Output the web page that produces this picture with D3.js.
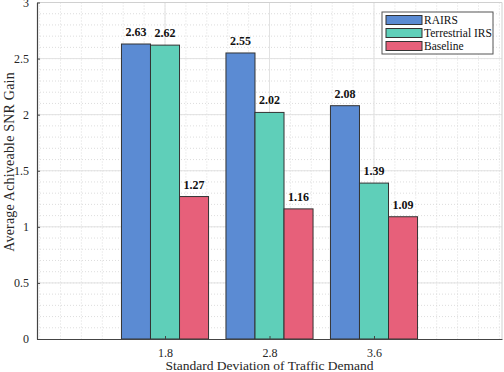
<!DOCTYPE html>
<html>
<head>
<meta charset="utf-8">
<script src="https://cdn.jsdelivr.net/npm/d3@7"></script>
<style>
  body { margin: 0; background: #fff; }
  svg text { font-family: "Liberation Serif", "DejaVu Serif", serif !important; }
</style>
</head>
<body>
<div id="chart"></div>
<script>
const width = 504, height = 372;

const categories = ["1.8", "2.8", "3.6"];
const seriesNames = ["RAIRS", "Terrestrial IRS", "Baseline"];
const rairs = [2.63, 2.55, 2.08];
const terrestrial = [2.62, 2.02, 1.39];
const baseline = [1.27, 1.16, 1.09];
const yTicks = [0, 0.5, 1, 1.5, 2, 2.5, 3];
const colors = ["#5b8bd3", "#5fcfb9", "#e7607a"];

const series = [rairs, terrestrial, baseline];

const svg = d3.select("#chart").append("svg")
  .attr("width", width)
  .attr("height", height);

// group positions 1..3 on a numeric axis, like the original
const x = d3.scaleLinear().domain([-0.225, 4.225]).range([37, 502]);
const y = d3.scaleLinear().domain([0, 3]).range([339, 2.5]);

const barW = 0.2778;

// MINOR GRID
const grid = svg.append("g");
d3.range(-0.2, 4.21, 0.2).forEach(v => {
  grid.append("line")
    .attr("x1", x(v)).attr("x2", x(v))
    .attr("y1", y(3)).attr("y2", y(0))
    .attr("stroke", "#d4d4d4").attr("stroke-width", 0.8)
    .attr("stroke-dasharray", "1,2");
});
d3.range(0.1, 3, 0.1).forEach(v => {
  grid.append("line")
    .attr("x1", x.range()[0]).attr("x2", x.range()[1])
    .attr("y1", y(v)).attr("y2", y(v))
    .attr("stroke", "#d4d4d4").attr("stroke-width", 0.8)
    .attr("stroke-dasharray", "1,2");
});
// MAJOR GRID
yTicks.slice(1).forEach(v => {
  grid.append("line")
    .attr("x1", x.range()[0]).attr("x2", x.range()[1])
    .attr("y1", y(v)).attr("y2", y(v))
    .attr("stroke", "#e2e2e2").attr("stroke-width", 1);
});
[1, 2, 3].forEach(v => {
  grid.append("line")
    .attr("x1", x(v)).attr("x2", x(v))
    .attr("y1", y(3)).attr("y2", y(0))
    .attr("stroke", "#e2e2e2").attr("stroke-width", 1);
});

// BARS
series.forEach((vals, s) => {
  const g = svg.append("g");
  vals.forEach((v, i) => {
    const cx = (i + 1) + (s - 1) * barW;
    g.append("rect")
      .attr("x", x(cx - barW / 2))
      .attr("y", y(v))
      .attr("width", x(barW) - x(0))
      .attr("height", y(0) - y(v))
      .attr("fill", colors[s])
      .attr("stroke", "#333")
      .attr("stroke-width", 1);
    g.append("text")
      .attr("x", x(cx))
      .attr("y", y(v) - 8)
      .attr("text-anchor", "middle")
      .attr("font-size", 12)
      .attr("font-weight", "bold")
      .attr("fill", "#111")
      .text(v.toFixed(2));
  });
});

// BOX
svg.append("line")
  .attr("x1", x.range()[0]).attr("x2", x.range()[1])
  .attr("y1", y(3)).attr("y2", y(3))
  .attr("stroke", "#d0d0d0");
svg.append("line")
  .attr("x1", x.range()[1]).attr("x2", x.range()[1])
  .attr("y1", y(3)).attr("y2", y(0))
  .attr("stroke", "#d0d0d0");

// AXIS
const xAxis = svg.append("g")
  .attr("transform", `translate(0,${y(0)})`)
  .call(d3.axisBottom(x).tickValues([1, 2, 3])
    .tickFormat((d, i) => categories[i])
    .tickSizeInner(-3).tickSizeOuter(0).tickPadding(9));

const yAxis = svg.append("g")
  .attr("transform", `translate(${x.range()[0]},0)`)
  .call(d3.axisLeft(y).tickValues(yTicks)
    .tickFormat(d3.format("~g"))
    .tickSizeInner(-3).tickSizeOuter(0).tickPadding(8));

[xAxis, yAxis].forEach(a => {
  a.attr("font-family", null);
  a.select(".domain").attr("stroke", "#444").attr("stroke-width", 1.2);
  a.selectAll(".tick line").attr("stroke", "#444");
  a.selectAll(".tick text")
    .attr("font-size", 12)
    .attr("fill", "#262626");
});

svg.append("text")
  .attr("x", (x.range()[0] + x.range()[1]) / 2)
  .attr("y", 370)
  .attr("text-anchor", "middle")
  .attr("font-size", 13.5)
  .attr("fill", "#262626")
  .text("Standard Deviation of Traffic Demand");

svg.append("text")
  .attr("transform", "translate(14,162) rotate(-90)")
  .attr("text-anchor", "middle")
  .attr("font-size", 14)
  .attr("letter-spacing", 0.2)
  .attr("fill", "#262626")
  .text("Average Achiveable SNR Gain");

// LEGEND
const legend = svg.append("g").attr("transform", "translate(382,12)");
legend.append("rect")
  .attr("width", 111).attr("height", 42)
  .attr("fill", "#fff")
  .attr("stroke", "#555").attr("stroke-width", 1);
seriesNames.forEach((name, i) => {
  legend.append("rect")
    .attr("x", 4).attr("y", 3.5 + i * 13)
    .attr("width", 36).attr("height", 9)
    .attr("fill", colors[i])
    .attr("stroke", "#333");
  legend.append("text")
    .attr("x", 42).attr("y", 12 + i * 13)
    .attr("font-size", 11.5)
    .attr("fill", "#111")
    .text(name);
});
</script>
</body>
</html>
